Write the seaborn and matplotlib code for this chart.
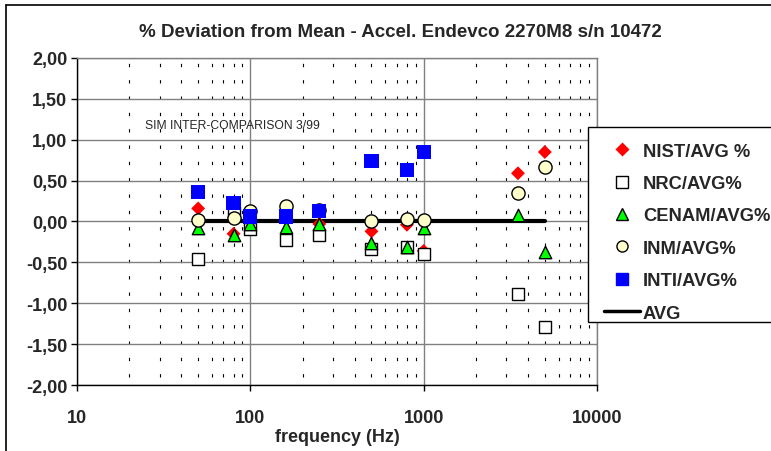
import numpy as np
import pandas as pd
import seaborn as sns
import matplotlib.pyplot as plt
from matplotlib.lines import Line2D
from matplotlib.patches import Rectangle
from matplotlib.ticker import LogLocator, FixedLocator, NullFormatter, FuncFormatter

# data
freq = [50, 80, 100, 160, 250, 500, 800, 1000, 3500, 5000]
nist = [0.16, -0.15, -0.08, 0.05, -0.03, -0.12, -0.04, -0.36, 0.59, 0.85]
nrc = [-0.46, 0.10, -0.09, -0.23, -0.17, -0.34, -0.31, -0.40, -0.89, -1.29]
cenam = [-0.08, -0.16, -0.03, -0.07, -0.03, -0.26, -0.31, -0.08, 0.08, -0.37]
inm = [0.02, 0.04, 0.13, 0.19, 0.14, 0.01, 0.03, 0.02, 0.35, 0.67]
inti = [0.365, 0.23, 0.06, 0.06, 0.13, 0.74, 0.63, 0.85]
avg = [0.0] * len(freq)

df = pd.DataFrame({'freq': freq, 'NIST': nist, 'NRC': nrc, 'CENAM': cenam,
                   'INM': inm, 'AVG': avg})
df_inti = pd.DataFrame({'freq': freq[:len(inti)], 'INTI': inti})

sns.set_style("white")
plt.rcParams['font.family'] = ['Liberation Sans', 'DejaVu Sans']
plt.rcParams['font.weight'] = 'bold'

fig = plt.figure(figsize=(7.71, 4.52), dpi=100)
ax = fig.add_axes([0.0999, 0.146, 0.6744, 0.7235])

# AVG line under the markers
sns.lineplot(data=df, x='freq', y='AVG', color='black', linewidth=3, ax=ax, zorder=2)

series = [
    ('NIST', df, 'D', '#ff0000', 'none', 50),
    ('NRC', df, 's', 'white', 'black', 75),
    ('CENAM', df, '^', '#00ff00', 'black', 80),
    ('INM', df, 'o', '#ffffcc', 'black', 90),
    ('INTI', df_inti, 's', '#0000ff', 'none', 105),
]
for name, d, mk, fc, ec, s in series:
    sns.scatterplot(data=d, x='freq', y=name, marker=mk, color=fc, edgecolor=ec,
                    linewidth=1.0, s=s, ax=ax, zorder=3)

ax.set_xscale('log')
ax.set_xlim(10, 10000)
ax.set_ylim(-2, 2)
ax.set_yticks(np.arange(-2, 2.01, 0.5))
ax.yaxis.set_major_formatter(FuncFormatter(lambda v, p: f"{v:.2f}".replace('.', ',')))
ax.xaxis.set_major_locator(FixedLocator([10, 100, 1000, 10000]))
ax.xaxis.set_major_formatter(FuncFormatter(lambda v, p: f"{int(v)}"))
ax.xaxis.set_minor_locator(LogLocator(base=10, subs=np.arange(2, 10)))
ax.xaxis.set_minor_formatter(NullFormatter())

ax.grid(True, which='major', color='#808080', linewidth=1.0)
ax.grid(True, which='minor', axis='x', color='black', linewidth=0.8,
        linestyle=(7.5, (3, 11.7)))
ax.set_axisbelow(True)
ax.tick_params(axis='both', which='major', direction='out', length=4, width=1,
               color='black', labelsize=13, bottom=True, left=True)
ax.tick_params(axis='x', which='major', pad=13)
ax.tick_params(axis='y', which='major', pad=3)
ax.tick_params(axis='x', which='minor', length=0)
for lab in ax.get_xticklabels() + ax.get_yticklabels():
    lab.set_fontweight('bold')
for sp in ax.spines.values():
    sp.set_color('#808080')
    sp.set_linewidth(1.0)
ax.spines['left'].set_color('black')
ax.spines['bottom'].set_color('black')

ax.set_xlabel('frequency (Hz)', fontsize=13, fontweight='bold', labelpad=2)
ax.set_ylabel('')
ax.text(24.7, 1.18, 'SIM INTER-COMPARISON 3/99', fontsize=8.7, ha='left', va='center',
        fontweight='normal')
fig.text(0.519, 0.929, '% Deviation from Mean - Accel. Endevco 2270M8 s/n 10472',
         ha='center', va='center', fontsize=13.5, fontweight='bold')

# outer chart frame (right and bottom edges fall outside the picture)
fig.add_artist(plt.Line2D([6 / 771, 6 / 771], [0, 1 - 6 / 452], color='black',
                          linewidth=1.2, transform=fig.transFigure))
fig.add_artist(plt.Line2D([6 / 771, 1], [1 - 6 / 452, 1 - 6 / 452], color='black',
                          linewidth=1.2, transform=fig.transFigure))

# legend box, runs past the right edge of the picture
fig.add_artist(Rectangle((588 / 771, 1 - 323 / 452), 0.3, (323 - 128) / 452,
                         transform=fig.transFigure, facecolor='white',
                         edgecolor='black', linewidth=1.0, zorder=4))

handles = [
    Line2D([], [], marker='D', color='#ff0000', linestyle='none', markersize=7,
           markeredgecolor='none', label='NIST/AVG %'),
    Line2D([], [], marker='s', markerfacecolor='white', markeredgecolor='black',
           linestyle='none', markersize=8, label='NRC/AVG%'),
    Line2D([], [], marker='^', markerfacecolor='#00ff00', markeredgecolor='black',
           linestyle='none', markersize=8, label='CENAM/AVG%'),
    Line2D([], [], marker='o', markerfacecolor='#ffffcc', markeredgecolor='black',
           linestyle='none', markersize=8, label='INM/AVG%'),
    Line2D([], [], marker='s', color='#0000ff', linestyle='none', markersize=8,
           label='INTI/AVG%'),
    Line2D([], [], color='black', linewidth=2.5, label='AVG'),
]
leg = fig.legend(handles=handles, loc='upper left', bbox_to_anchor=(588 / 771, 1 - 128 / 452),
                 frameon=False, prop={'weight': 'bold', 'size': 13.2}, labelspacing=0.84,
                 handlelength=2.0, handletextpad=0.15, borderpad=0.85, borderaxespad=0)
leg.set_zorder(5)

fig.savefig('out.png', dpi=100)
